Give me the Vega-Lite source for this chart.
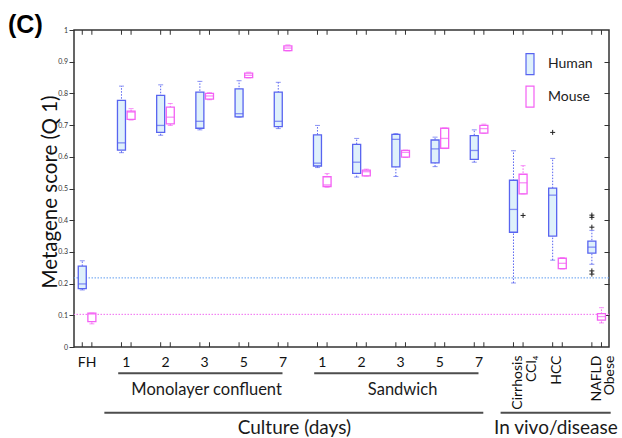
{
  "$schema": "https://vega.github.io/schema/vega-lite/v6.json",
  "autosize": "none",
  "width": 535,
  "height": 317,
  "padding": {"left": 74, "top": 30, "right": 13, "bottom": 91},
  "background": "white",
  "config": {"view": {"stroke": "#333333", "strokeWidth": 1.5}, "font": "Lato"},
  "title": {"text": "(C)", "anchor": "start", "frame": "group", "font": "Liberation Sans", "fontSize": 25, "fontWeight": "bold", "color": "#000000", "dx": -66, "dy": 12, "offset": 0},
  "datasets": {
    "boxes": [
      {"group": "FH", "species": "Human", "lo": 0.180, "q1": 0.184, "med": 0.199, "q3": 0.255, "hi": 0.272},
      {"group": "FH", "species": "Mouse", "lo": 0.073, "q1": 0.080, "med": 0.104, "q3": 0.107, "hi": 0.107},
      {"group": "Monolayer 1", "species": "Human", "lo": 0.613, "q1": 0.621, "med": 0.644, "q3": 0.778, "hi": 0.823},
      {"group": "Monolayer 1", "species": "Mouse", "lo": 0.716, "q1": 0.718, "med": 0.741, "q3": 0.744, "hi": 0.752},
      {"group": "Monolayer 2", "species": "Human", "lo": 0.668, "q1": 0.677, "med": 0.699, "q3": 0.794, "hi": 0.827},
      {"group": "Monolayer 2", "species": "Mouse", "lo": 0.699, "q1": 0.704, "med": 0.725, "q3": 0.757, "hi": 0.768},
      {"group": "Monolayer 3", "species": "Human", "lo": 0.685, "q1": 0.690, "med": 0.712, "q3": 0.804, "hi": 0.838},
      {"group": "Monolayer 3", "species": "Mouse", "lo": 0.780, "q1": 0.782, "med": 0.792, "q3": 0.800, "hi": 0.802},
      {"group": "Monolayer 5", "species": "Human", "lo": 0.725, "q1": 0.726, "med": 0.736, "q3": 0.814, "hi": 0.840},
      {"group": "Monolayer 5", "species": "Mouse", "lo": 0.849, "q1": 0.850, "med": 0.857, "q3": 0.864, "hi": 0.867},
      {"group": "Monolayer 7", "species": "Human", "lo": 0.689, "q1": 0.695, "med": 0.712, "q3": 0.804, "hi": 0.835},
      {"group": "Monolayer 7", "species": "Mouse", "lo": 0.934, "q1": 0.935, "med": 0.943, "q3": 0.950, "hi": 0.953},
      {"group": "Sandwich 1", "species": "Human", "lo": 0.566, "q1": 0.571, "med": 0.580, "q3": 0.669, "hi": 0.699},
      {"group": "Sandwich 1", "species": "Mouse", "lo": 0.504, "q1": 0.506, "med": 0.511, "q3": 0.537, "hi": 0.547},
      {"group": "Sandwich 2", "species": "Human", "lo": 0.536, "q1": 0.548, "med": 0.583, "q3": 0.639, "hi": 0.658},
      {"group": "Sandwich 2", "species": "Mouse", "lo": 0.539, "q1": 0.540, "med": 0.553, "q3": 0.558, "hi": 0.561},
      {"group": "Sandwich 3", "species": "Human", "lo": 0.538, "q1": 0.568, "med": 0.655, "q3": 0.671, "hi": 0.673},
      {"group": "Sandwich 3", "species": "Mouse", "lo": 0.598, "q1": 0.599, "med": 0.614, "q3": 0.620, "hi": 0.621},
      {"group": "Sandwich 5", "species": "Human", "lo": 0.569, "q1": 0.581, "med": 0.625, "q3": 0.653, "hi": 0.662},
      {"group": "Sandwich 5", "species": "Mouse", "lo": 0.626, "q1": 0.627, "med": 0.658, "q3": 0.690, "hi": 0.691},
      {"group": "Sandwich 7", "species": "Human", "lo": 0.583, "q1": 0.592, "med": 0.620, "q3": 0.667, "hi": 0.685},
      {"group": "Sandwich 7", "species": "Mouse", "lo": 0.674, "q1": 0.675, "med": 0.689, "q3": 0.699, "hi": 0.703},
      {"group": "Cirrhosis CCl4", "species": "Human", "lo": 0.202, "q1": 0.362, "med": 0.434, "q3": 0.526, "hi": 0.619},
      {"group": "Cirrhosis CCl4", "species": "Mouse", "lo": 0.483, "q1": 0.483, "med": 0.518, "q3": 0.545, "hi": 0.572},
      {"group": "HCC", "species": "Human", "lo": 0.274, "q1": 0.350, "med": 0.479, "q3": 0.501, "hi": 0.595},
      {"group": "HCC", "species": "Mouse", "lo": 0.246, "q1": 0.247, "med": 0.264, "q3": 0.280, "hi": 0.282},
      {"group": "NAFLD Obese", "species": "Human", "lo": 0.261, "q1": 0.296, "med": 0.315, "q3": 0.334, "hi": 0.368},
      {"group": "NAFLD Obese", "species": "Mouse", "lo": 0.076, "q1": 0.085, "med": 0.096, "q3": 0.105, "hi": 0.124}
    ],
    "outliers": [
      {"group": "Cirrhosis CCl4", "species": "Mouse", "value": 0.415},
      {"group": "HCC", "species": "Human", "value": 0.677},
      {"group": "NAFLD Obese", "species": "Human", "value": 0.416},
      {"group": "NAFLD Obese", "species": "Human", "value": 0.409},
      {"group": "NAFLD Obese", "species": "Human", "value": 0.378},
      {"group": "NAFLD Obese", "species": "Human", "value": 0.240},
      {"group": "NAFLD Obese", "species": "Human", "value": 0.230}
    ],
    "refs": [
      {"species": "Human", "value": 0.218},
      {"species": "Mouse", "value": 0.103}
    ],
    "disease": [
      {"group": "Cirrhosis CCl4", "name": "Cirrhosis\nCCl₄"},
      {"group": "HCC", "name": "HCC"},
      {"group": "NAFLD Obese", "name": "NAFLD\nObese"}
    ],
    "notes": [
      {"label": "Monolayer confluent", "from": "Monolayer 1", "to": "Monolayer 7", "at": "Monolayer 3"},
      {"label": "Sandwich", "from": "Sandwich 1", "to": "Sandwich 7", "at": "Sandwich 3"},
      {"label": "Culture (days)", "from": "FH", "to": "Sandwich 7", "at": "Monolayer 7"},
      {"label": "In vivo/disease", "from": "Cirrhosis CCl4", "to": "NAFLD Obese", "at": "HCC"}
    ]
  },
  "layer": [
    {
      "data": {"name": "refs"},
      "mark": {"type": "rule", "strokeDash": [1.5, 1.5], "strokeWidth": 1},
      "encoding": {
        "y": {"field": "value", "type": "quantitative", "scale": {"domain": [0, 1], "nice": false, "zero": false},
          "axis": {"orient": "right", "values": [0.1, 0.2, 0.3, 0.4, 0.5, 0.6, 0.7, 0.8, 0.9], "labels": false, "domain": false, "grid": false, "tickSize": -5, "tickColor": "#333333", "tickWidth": 1, "title": null}},
        "color": {"field": "species", "type": "nominal", "scale": {"domain": ["Human", "Mouse"], "range": ["#5f9df0", "#f06cf0"]}, "legend": null}
      }
    },
    {
      "data": {"name": "boxes"},
      "mark": {"type": "rule", "color": "#333333", "strokeWidth": 1},
      "encoding": {
        "x": {"field": "group", "type": "nominal", "sort": null,
          "scale": {"domain": ["FH", "Monolayer 1", "Monolayer 2", "Monolayer 3", "Monolayer 5", "Monolayer 7", "Sandwich 1", "Sandwich 2", "Sandwich 3", "Sandwich 5", "Sandwich 7", "Cirrhosis CCl4", "HCC", "NAFLD Obese"], "paddingInner": 0.51, "paddingOuter": 0.079, "align": 0.56},
          "axis": {"title": null, "ticks": false, "domain": false, "grid": false, "labelFont": "Lato", "labelFontSize": 14, "labelColor": "#111111", "labelPadding": 8, "labelAngle": 0, "labelAlign": "center", "labelBaseline": "top", "labelOverlap": false,
            "labelExpr": "indexof(datum.value,'Monolayer')==0 || indexof(datum.value,'Sandwich')==0 ? split(datum.value,' ')[1] : datum.value=='FH' ? ' FH' : ''"}},
        "xOffset": {"field": "species", "type": "nominal", "scale": {"domain": ["Human", "Mouse"], "paddingInner": 0, "paddingOuter": 0}},
        "y": {"datum": 0, "type": "quantitative", "scale": {"domain": [0, 1], "nice": false, "zero": false},
          "axis": {"title": "Metagene score (Q 1)", "values": [0, 0.1, 0.2, 0.3, 0.4, 0.5, 0.6, 0.7, 0.8, 0.9, 1], "labelExpr": "'' + round(datum.value*10)/10", "grid": false, "domain": false, "tickSize": 5, "tickColor": "#333333", "tickWidth": 1, "labelFont": "Lato", "labelFontSize": 7, "labelColor": "#333333", "labelPadding": 1.5, "labelOverlap": false,
            "titleFont": "Lato", "titleFontSize": 20.5, "titleFontWeight": "normal", "titleColor": "#111111", "titleAngle": 270, "titleBaseline": "middle", "titleAlign": "center", "titleX": -24, "titleY": 161.5}},
        "y2": {"datum": 0.015}
      }
    },
    {
      "layer": [
        {
          "data": {"name": "boxes"},
          "mark": {"type": "rule", "strokeDash": [1.5, 1.5], "strokeWidth": 1},
          "encoding": {
            "x": {"field": "group", "type": "nominal", "sort": null, "axis": null},
            "xOffset": {"field": "species", "type": "nominal"},
            "y": {"field": "lo", "type": "quantitative", "scale": {"domain": [0, 1], "nice": false, "zero": false}, "axis": null},
            "y2": {"field": "hi"},
            "color": {"field": "species", "type": "nominal", "scale": {"domain": ["Human", "Mouse"], "range": ["#5864f0", "#f461f4"]}, "legend": null}
          }
        },
        {
          "data": {"name": "boxes"},
          "mark": {"type": "bar", "width": 8, "strokeWidth": 1.3},
          "encoding": {
            "x": {"field": "group", "type": "nominal", "sort": null, "axis": null},
            "xOffset": {"field": "species", "type": "nominal"},
            "y": {"field": "q1", "type": "quantitative", "axis": null},
            "y2": {"field": "q3"},
            "fill": {"field": "species", "type": "nominal", "scale": {"domain": ["Human", "Mouse"], "range": ["#dff1fb", "#ffffff"]},
              "legend": {"orient": "none", "legendX": 444.5, "legendY": 22.7, "title": null, "symbolType": "M-0.38,-1H0.38V1H-0.38Z", "symbolSize": 441, "symbolStrokeWidth": 1.2, "labelFont": "Lato", "labelFontSize": 14, "labelColor": "#222222", "labelOffset": 6.5, "rowPadding": 5.5, "padding": 0}},
            "stroke": {"field": "species", "type": "nominal", "scale": {"domain": ["Human", "Mouse"], "range": ["#5864f0", "#f461f4"]},
              "legend": {"orient": "none", "legendX": 444.5, "legendY": 22.7, "title": null, "symbolType": "M-0.38,-1H0.38V1H-0.38Z", "symbolSize": 441, "symbolStrokeWidth": 1.2, "labelFont": "Lato", "labelFontSize": 14, "labelColor": "#222222", "labelOffset": 6.5, "rowPadding": 5.5, "padding": 0}}
          }
        },
        {
          "data": {"name": "boxes"},
          "mark": {"type": "tick", "size": 8, "thickness": 1.3},
          "encoding": {
            "x": {"field": "group", "type": "nominal", "sort": null, "axis": null},
            "xOffset": {"field": "species", "type": "nominal"},
            "y": {"field": "med", "type": "quantitative", "axis": null},
            "color": {"field": "species", "type": "nominal", "legend": null}
          }
        },
        {
          "data": {"name": "boxes"},
          "mark": {"type": "tick", "size": 5, "thickness": 1},
          "encoding": {
            "x": {"field": "group", "type": "nominal", "sort": null, "axis": null},
            "xOffset": {"field": "species", "type": "nominal"},
            "y": {"field": "lo", "type": "quantitative", "axis": null},
            "color": {"field": "species", "type": "nominal", "legend": null}
          }
        },
        {
          "data": {"name": "boxes"},
          "mark": {"type": "tick", "size": 5, "thickness": 1},
          "encoding": {
            "x": {"field": "group", "type": "nominal", "sort": null, "axis": null},
            "xOffset": {"field": "species", "type": "nominal"},
            "y": {"field": "hi", "type": "quantitative", "axis": null},
            "color": {"field": "species", "type": "nominal", "legend": null}
          }
        },
        {
          "data": {"name": "outliers"},
          "mark": {"type": "point", "shape": "M-1,0H1M0,-1V1", "size": 25, "filled": false, "stroke": "#222222", "strokeWidth": 1, "opacity": 1},
          "encoding": {
            "x": {"field": "group", "type": "nominal", "sort": null, "axis": null},
            "xOffset": {"field": "species", "type": "nominal"},
            "y": {"field": "value", "type": "quantitative", "axis": null}
          }
        },
        {
          "data": {"name": "boxes"},
          "mark": {"type": "rule", "color": "#333333", "strokeWidth": 1},
          "encoding": {
            "x": {"field": "group", "type": "nominal", "sort": null, "axis": null},
            "xOffset": {"field": "species", "type": "nominal"},
            "y": {"datum": 0.985, "axis": null},
            "y2": {"datum": 1}
          }
        },
        {
          "data": {"name": "disease"},
          "mark": {"type": "text", "font": "Lato", "fontSize": 14, "color": "#111111", "angle": 270, "align": "right", "baseline": "middle", "lineBreak": "\n", "lineHeight": 13.5},
          "encoding": {
            "x": {"field": "group", "type": "nominal", "axis": null},
            "y": {"datum": -0.027, "axis": null},
            "text": {"field": "name"}
          }
        },
        {
          "data": {"name": "notes"},
          "transform": [{"filter": "datum.label=='Monolayer confluent' || datum.label=='Sandwich'"}],
          "mark": {"type": "rule", "color": "#4d4d4d", "strokeWidth": 2},
          "encoding": {
            "x": {"field": "from", "type": "nominal", "bandPosition": 0.08, "axis": null},
            "x2": {"field": "to", "bandPosition": 0.47},
            "y": {"datum": -0.083, "axis": null}
          }
        },
        {
          "data": {"name": "notes"},
          "transform": [{"filter": "datum.label=='Monolayer confluent' || datum.label=='Sandwich'"}],
          "mark": {"type": "text", "font": "Lato", "fontSize": 16.5, "color": "#1a1a1a", "baseline": "middle", "align": "center"},
          "encoding": {
            "x": {"field": "at", "type": "nominal", "bandPosition": 0.6, "axis": null},
            "y": {"datum": -0.1356, "axis": null},
            "text": {"field": "label"}
          }
        },
        {
          "data": {"name": "notes"},
          "transform": [{"filter": "datum.label=='Culture (days)'"}],
          "mark": {"type": "rule", "color": "#4d4d4d", "strokeWidth": 2},
          "encoding": {
            "x": {"field": "from", "type": "nominal", "bandPosition": 1.4, "axis": null},
            "x2": {"field": "to", "bandPosition": 0.72},
            "y": {"datum": -0.2073, "axis": null}
          }
        },
        {
          "data": {"name": "notes"},
          "transform": [{"filter": "datum.label=='In vivo/disease'"}],
          "mark": {"type": "rule", "color": "#4d4d4d", "strokeWidth": 2},
          "encoding": {
            "x": {"field": "from", "type": "nominal", "bandPosition": -0.42, "axis": null},
            "x2": {"field": "to", "bandPosition": 1.23},
            "y": {"datum": -0.2073, "axis": null}
          }
        },
        {
          "data": {"name": "notes"},
          "transform": [{"filter": "datum.label=='Culture (days)'"}],
          "mark": {"type": "text", "font": "Lato", "fontSize": 19, "color": "#1a1a1a", "baseline": "middle", "align": "center"},
          "encoding": {
            "x": {"field": "at", "type": "nominal", "bandPosition": 1.09, "axis": null},
            "y": {"datum": -0.2555, "axis": null},
            "text": {"field": "label"}
          }
        },
        {
          "data": {"name": "notes"},
          "transform": [{"filter": "datum.label=='In vivo/disease'"}],
          "mark": {"type": "text", "font": "Lato", "fontSize": 19, "color": "#1a1a1a", "baseline": "middle", "align": "center"},
          "encoding": {
            "x": {"field": "at", "type": "nominal", "bandPosition": 0.42, "axis": null},
            "y": {"datum": -0.2555, "axis": null},
            "text": {"field": "label"}
          }
        }
      ]
    }
  ],
  "resolve": {"scale": {"y": "independent", "color": "independent"}, "axis": {"x": "independent"}}
}
